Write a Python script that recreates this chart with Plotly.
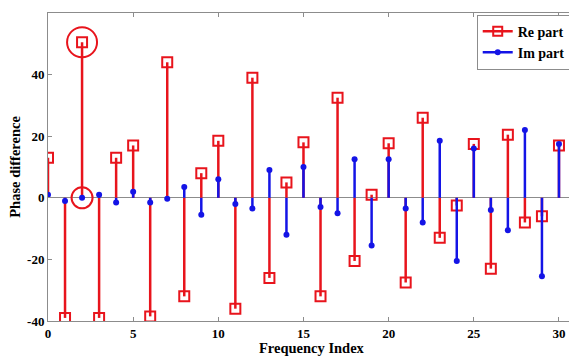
import plotly.graph_objects as go

freq_index = list(range(32))
re_part = [13, -39, 50.5, -39, 13, 17, -38.5, 44, -32, 8, 18.5, -36, 39, -26, 5, 18,
           -32, 32.5, -20.5, 1, 17.7, -27.5, 26, -13, -2.5, 17.5, -23, 20.5, -8, -6, 17, -19.5]
im_part = [1, -1, 0, 1, -1.5, 2, -1.5, -0.3, 3.5, -5.5, 6, -2, -3.5, 9, -12, 10,
           -3, -5, 12.5, -15.5, 12.5, -3.5, -8, 18.5, -20.5, 16, -4, -10.5, 22, -25.5, 17.5, -3]
x_ticks = [0, 5, 10, 15, 20, 25, 30]
y_ticks = [-40, -20, 0, 20, 40, 60]
y_tick_labels = ["-40", "-20", "0", "20", "40", "60"]

RED = "#e8141c"
BLUE = "#1414e6"
FONT = "Liberation Serif"


def stems(xs, ys):
    sx, sy = [], []
    for x, y in zip(xs, ys):
        sx += [x, x, None]
        sy += [0, y, None]
    return sx, sy


fig = go.Figure()

rx, ry = stems(freq_index, re_part)
ix, iy = stems(freq_index, im_part)

fig.add_trace(go.Scatter(x=rx, y=ry, mode="lines", line=dict(color=RED, width=2.5),
                         showlegend=False, hoverinfo="skip"))
fig.add_trace(go.Scatter(x=freq_index, y=re_part, mode="markers", showlegend=False,
                         marker=dict(symbol="square-open", size=10, color=RED,
                                     line=dict(width=2, color=RED))))
fig.add_trace(go.Scatter(x=ix, y=iy, mode="lines", line=dict(color=BLUE, width=2.5),
                         showlegend=False, hoverinfo="skip"))
fig.add_trace(go.Scatter(x=freq_index, y=im_part, mode="markers", showlegend=False,
                         marker=dict(symbol="circle", size=6, color=BLUE)))

# legend entries
fig.add_trace(go.Scatter(x=[None], y=[None], mode="lines+markers", name="Re part",
                         line=dict(color=RED, width=2.5),
                         marker=dict(symbol="square-open", size=9, color=RED,
                                     line=dict(width=2, color=RED))))
fig.add_trace(go.Scatter(x=[None], y=[None], mode="lines+markers", name="Im part",
                         line=dict(color=BLUE, width=2.5),
                         marker=dict(symbol="circle", size=6, color=BLUE)))

# highlight circles around index 2
for val, r in [(re_part[2], 15), (im_part[2], 10.5)]:
    fig.add_shape(type="circle", xref="x", yref="y", xsizemode="pixel", ysizemode="pixel",
                  xanchor=freq_index[2], yanchor=val, x0=-r, x1=r, y0=-r, y1=r,
                  line=dict(color=RED, width=2))

axis_common = dict(showgrid=False, ticks="inside", mirror="ticks", showline=True,
                   linecolor="#8c8c8c", linewidth=1, tickcolor="#8c8c8c", ticklen=4,
                   automargin=False,
                   tickfont=dict(family=FONT, size=13, color="black", weight="bold"))

fig.update_xaxes(range=[0, 31], tickvals=x_ticks, zeroline=False, **axis_common)
fig.update_yaxes(range=[-40, 60], tickvals=y_ticks, ticktext=y_tick_labels,
                 zeroline=True, zerolinecolor="#8c8c8c", zerolinewidth=1, **axis_common)

title_font = dict(family=FONT, size=14.5, color="black", weight="bold")
fig.add_annotation(text="Frequency Index", xref="paper", yref="paper", x=0.5, y=-0.088,
                   xanchor="center", yanchor="middle", showarrow=False, font=title_font)
fig.add_annotation(text="Phase difference", xref="paper", yref="paper", x=-0.063, y=0.5,
                   xanchor="center", yanchor="middle", textangle=-90, showarrow=False,
                   font=title_font)

fig.update_layout(
    width=569, height=348,
    margin=dict(l=40, r=1, t=5, b=35),
    plot_bgcolor="white", paper_bgcolor="white",
    legend=dict(x=0.99, y=0.995, xanchor="right", yanchor="top",
                bordercolor="#8c8c8c", borderwidth=1, bgcolor="white",
                font=dict(family=FONT, size=14, color="black", weight="bold"),
                tracegroupgap=0, itemwidth=30),
)

fig.write_html("out.html")
